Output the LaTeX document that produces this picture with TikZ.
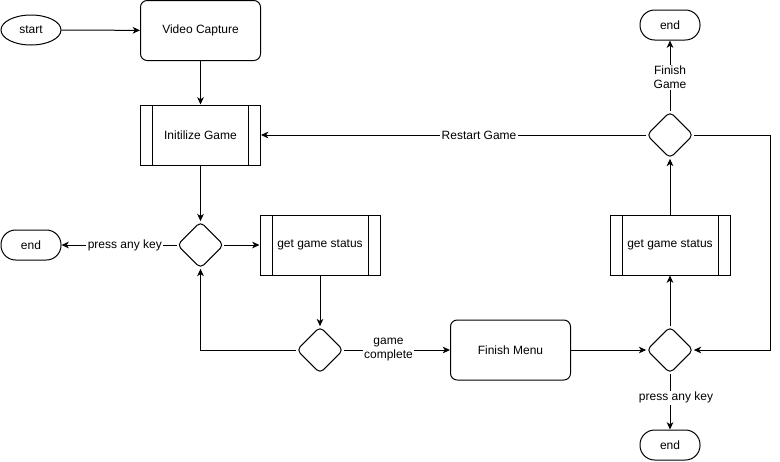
\documentclass[tikz,border=0pt]{standalone}
\usepackage{fontspec}
\setmainfont{Liberation Sans}
\usetikzlibrary{arrows.meta,shapes.geometric}
\begin{document}
\begin{tikzpicture}[x=0.75pt,y=-0.75pt,
  every node/.style={font=\fontsize{9}{10.5}\selectfont, align=center},
  line width=0.75pt,
  arr/.style={-{Stealth[length=5.5pt,width=5pt,inset=1.6pt]}},
  rbox/.style={draw, rounded corners=5pt, minimum width=90pt, minimum height=45pt, inner sep=0pt},
  procbox/.style={draw, minimum width=90pt, minimum height=45pt, inner sep=0pt,
    path picture={
      \draw ([xshift=9pt]path picture bounding box.north west) -- ([xshift=9pt]path picture bounding box.south west);
      \draw ([xshift=-9pt]path picture bounding box.north east) -- ([xshift=-9pt]path picture bounding box.south east);
    }},
  decision/.style={draw, diamond, aspect=1, minimum width=35pt, minimum height=35pt, inner sep=0pt, rounded corners=3.5pt},
  terminal/.style={draw, rounded corners=11pt, minimum width=45pt, minimum height=22.5pt, inner sep=0pt},
  startoval/.style={draw, ellipse, minimum width=45pt, minimum height=22.5pt, inner sep=0pt},
  lbl/.style={fill=white, inner sep=1pt}
]
\useasboundingbox (0,0) rectangle (780,461);

\node[startoval] (start) at (31,30) {start};
\node[rbox] (video) at (200.5,30.5) {Video Capture};
\node[procbox] (init) at (200.5,135) {Initilize Game};
\node[decision] (d1) at (200.5,245) {};
\node[terminal] (endl) at (31,245) {end};
\node[procbox] (gs1) at (320,245) {get game status};
\node[decision] (d2) at (320,350) {};
\node[rbox] (menu) at (510.5,350) {Finish Menu};
\node[decision] (d3) at (670,350) {};
\node[terminal] (endb) at (670,445) {end};
\node[procbox] (gs2) at (670,245) {get game status};
\node[decision] (d4) at (670,135) {};
\node[terminal] (endt) at (670,25) {end};
\coordinate (rc) at (770,350);

\draw[arr] (start) -- (video);
\draw[arr] (video) -- (init);
\draw[arr] (init) -- (d1);
\draw[arr] (d1.west) -- node[lbl,pos=0.45] {press any key} (endl.east);
\draw[arr] (d1.east) -- (gs1.west);
\draw[arr] (gs1.south) -- (d2.north);
\draw[arr] (d2.west) -| (d1.south);
\draw[arr] (d2.east) -- node[lbl,pos=0.42] {game\\complete} (menu.west);
\draw[arr] (menu.east) -- (d3.west);
\draw[arr] (d3.north) -- (gs2.south);
\draw[arr] (gs2.north) -- (d4.south);
\draw[arr] (d4.west) -- node[lbl,pos=0.434] {Restart Game} (init.east);
\draw[arr] (d4.east) -| (rc) -- (d3.east);
\draw[arr] (d4.north) -- node[lbl,pos=0.48] {Finish\\Game} (endt.south);
\draw[arr] (d3.south) -- node[lbl,pos=0.43,xshift=4.5pt] {press any key} (endb.north);
\end{tikzpicture}
\end{document}
